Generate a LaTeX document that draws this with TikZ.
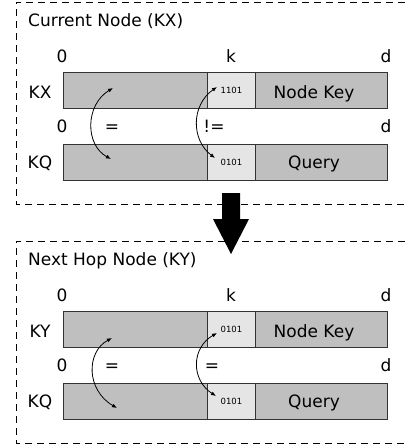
\documentclass[tikz,border=0pt]{standalone}
\usepackage{fontspec}
\setmainfont{DejaVu Sans}
\usetikzlibrary{arrows.meta}
\definecolor{barfill}{gray}{0.75}
\definecolor{cellfill}{gray}{0.9}
\definecolor{barline}{gray}{0.2}
\begin{document}
\begin{tikzpicture}[x=1pt,y=-1pt,
  lbl/.style={font=\fontsize{17}{20}\selectfont, anchor=base, inner sep=0pt},
  title/.style={lbl, anchor=base west},
  bits/.style={font=\fontsize{8.5}{10}\selectfont},
  bar/.style={draw=barline, fill=barfill, line width=1pt, anchor=north west,
              minimum width=324pt, minimum height=36pt, inner sep=0pt},
  cellbox/.style={draw=barline, fill=cellfill, line width=1pt, anchor=north west,
              minimum width=48pt, minimum height=36pt, inner sep=0pt, bits},
  frame/.style={dash pattern=on 7pt off 5pt, line width=0.9pt},
  swap/.style={{Latex[length=5pt,width=4pt]}-{Latex[length=5pt,width=4pt]}, line width=0.8pt}]
\useasboundingbox (0,0) rectangle (405,447);

% ---------- current node ----------
\draw[frame] (405,2) -- (16,2) -- (16,204) -- (405,204);
\node[title] (t1) at (28,26) {Current Node (KX)};
\node[lbl] (a0) at (62,62) {0};
\node[lbl] (ak) at (231,62) {k};
\node[lbl] (ad) at (386,62) {d};
\node[lbl] (akx) at (40,98) {KX};
\node[bar] (kxbar) at (63,72) {};
\node[cellbox] (kxcell) at (207,72) {1101};
\node[lbl] (kxname) at (314,98) {Node Key};
\node[lbl] (b0) at (62,132) {0};
\node[lbl] (beq) at (112,132) {=};
\node[lbl] (bne) at (214,132) {!=};
\node[lbl] (bd) at (386,132) {d};
\node[lbl] (akq) at (40,168) {KQ};
\node[bar] (kqbar) at (63,144) {};
\node[cellbox] (kqcell) at (207,144) {0101};
\node[lbl] (kqname) at (314,168) {Query};
\coordinate (p1) at (113,88);
\coordinate (p2) at (111,159);
\coordinate (q1) at (217,87);
\coordinate (q2) at (215,158);
\draw[swap] (p1) .. controls (85,105) and (85,145) .. (p2);
\draw[swap] (q1) .. controls (191,105) and (191,140) .. (q2);

% ---------- next hop node ----------
\draw[frame] (405,241) -- (16,241) -- (16,443) -- (405,443);
\node[title] (t2) at (28,265) {Next Hop Node (KY)};
\node[lbl] (c0) at (62,301) {0};
\node[lbl] (ck) at (231,301) {k};
\node[lbl] (cd) at (386,301) {d};
\node[lbl] (aky) at (40,337) {KY};
\node[bar] (kybar) at (63,311) {};
\node[cellbox] (kycell) at (207,311) {0101};
\node[lbl] (kyname) at (314,337) {Node Key};
\node[lbl] (d0) at (62,371) {0};
\node[lbl] (deq) at (112,371) {=};
\node[lbl] (deq2) at (212,371) {=};
\node[lbl] (dd) at (386,371) {d};
\node[lbl] (akq2) at (40,407) {KQ};
\node[bar] (kq2bar) at (63,383) {};
\node[cellbox] (kq2cell) at (207,383) {0101};
\node[lbl] (kq2name) at (314,407) {Query};
\coordinate (r1) at (112,338);
\coordinate (r2) at (117,408);
\coordinate (s1) at (217,333);
\coordinate (s2) at (216,396);
\draw[swap] (r1) .. controls (86,352) and (86,390) .. (r2);
\draw[swap] (s1) .. controls (191,348) and (191,380) .. (s2);

% ---------- hop arrow ----------
\fill (222,193) -- (240,193) -- (240,219) -- (249,219) -- (231,254)
      -- (213,219) -- (222,219) -- cycle;
\end{tikzpicture}
\end{document}
